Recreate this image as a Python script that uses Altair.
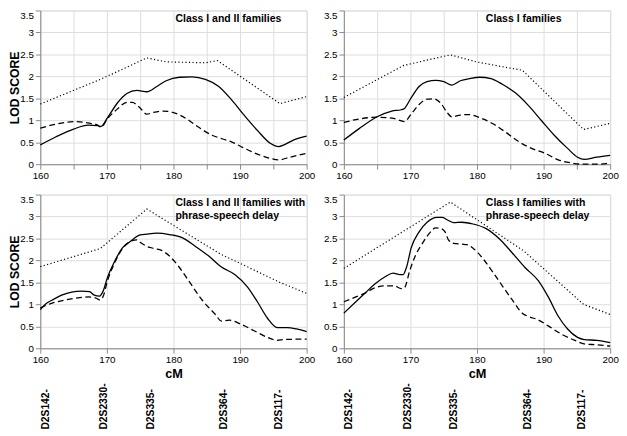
import altair as alt
import pandas as pd

FONT = "Liberation Sans"

# ---------------- data (cM positions, LOD scores) ----------------
# Panel 1: Class I and II families
tl_solid_x = [160, 162.3, 165, 167.2, 168.6, 169.1, 170.1, 171.6, 173, 174.5, 176, 177.5, 178.9, 180.9, 182.8,
              184.8, 186.8, 188.7, 190.7, 192.6, 194.6, 195.8, 196.6, 198, 200]
tl_solid_y = [0.44, 0.62, 0.8, 0.89, 0.88, 0.86, 1.06, 1.4, 1.61, 1.68, 1.65, 1.77, 1.9, 1.98, 1.99,
              1.93, 1.77, 1.47, 1.1, 0.77, 0.47, 0.4, 0.44, 0.55, 0.64]
tl_dash_x = [160, 162.3, 165, 167.2, 168.6, 169.1, 170.1, 171.6, 173, 173.8, 174.8, 176, 177, 178.4, 179.9,
             181.9, 183.8, 185.8, 187.3, 188.7, 190.7, 192.6, 194.6, 195.8, 197.5, 200]
tl_dash_y = [0.82, 0.91, 0.97, 0.94, 0.89, 0.84, 1.04, 1.26, 1.41, 1.41, 1.31, 1.14, 1.18, 1.21, 1.18,
             1.04, 0.84, 0.66, 0.58, 0.51, 0.36, 0.23, 0.13, 0.10, 0.16, 0.25]
tl_dot_x = [160, 169, 176, 178.9, 184.8, 186.6, 196, 200]
tl_dot_y = [1.37, 1.93, 2.42, 2.33, 2.31, 2.36, 1.38, 1.54]

# Panel 2: Class I families
tr_solid_x = [160, 162.3, 165, 167.2, 168.6, 169.1, 170.1, 171.3, 172.5, 173.8, 175, 176.2, 177.5, 178.9, 180.4,
              182.1, 183.8, 185.8, 187.7, 189.7, 191.6, 193.6, 195.1, 196.1, 198, 200]
tr_solid_y = [0.55, 0.81, 1.08, 1.21, 1.24, 1.27, 1.51, 1.77, 1.88, 1.91, 1.88, 1.8, 1.9, 1.95, 1.98,
              1.95, 1.82, 1.62, 1.34, 0.99, 0.66, 0.36, 0.16, 0.11, 0.16, 0.2]
tr_dash_x = [160, 162.3, 165, 167.2, 168.4, 169.1, 170.1, 171.3, 172.5, 173.5, 174.5, 175.5, 176.2, 177.5, 178.7,
             180.4, 182.4, 184.3, 186.3, 188.2, 190.2, 192.2, 194.1, 196.1, 198, 200]
tr_dash_y = [0.95, 1.03, 1.07, 1.05, 1.0, 0.97, 1.14, 1.36, 1.48, 1.49, 1.4, 1.18, 1.08, 1.12, 1.13,
             1.06, 0.92, 0.73, 0.51, 0.36, 0.25, 0.1, 0.03, 0.0, 0.0, 0.03]
tr_dot_x = [160, 169, 176, 179.9, 183.8, 186.8, 196, 200]
tr_dot_y = [1.52, 2.25, 2.49, 2.33, 2.22, 2.14, 0.79, 0.93]

# Panel 3: Class I and II families with phrase-speech delay
bl_solid_x = [160, 160.8, 161.8, 163.2, 164.7, 166.2, 167.4, 168.1, 168.9, 169.4, 170.1, 171.1, 172.3, 173.5, 175,
              176, 177.5, 179.4, 181.3, 183.3, 185.3, 187.2, 189.2, 191.1, 192.6, 194.1, 195.6, 197.1, 198.5, 200]
bl_solid_y = [0.88, 1.01, 1.1, 1.21, 1.28, 1.3, 1.29, 1.21, 1.19, 1.29, 1.62, 1.96, 2.28, 2.43, 2.58,
              2.6, 2.62, 2.59, 2.52, 2.32, 2.1, 1.85, 1.68, 1.4, 1.06, 0.69, 0.47, 0.47, 0.44, 0.38]
bl_dash_x = [160, 161.8, 163.7, 165.7, 167.2, 168.4, 168.9, 169.4, 170.1, 171.3, 172.5, 173.5, 174.5, 175.2, 176,
             177.2, 178.2, 179.4, 180.9, 182.4, 184.3, 186.3, 187.2, 188.4, 190.1, 192.1, 194.1, 195.6, 196.6, 200]
bl_dash_y = [0.92, 1.03, 1.1, 1.15, 1.17, 1.14, 1.1, 1.17, 1.54, 1.99, 2.3, 2.43, 2.47, 2.39, 2.32,
             2.27, 2.23, 2.1, 1.84, 1.51, 1.1, 0.77, 0.62, 0.64, 0.55, 0.4, 0.25, 0.18, 0.2, 0.21]
bl_dot_x = [160, 169, 176, 187, 196, 200]
bl_dot_y = [1.86, 2.27, 3.17, 2.15, 1.5, 1.25]

# Panel 4: Class I families with phrase-speech delay
br_solid_x = [160, 161.8, 163.2, 164.7, 166.2, 167.4, 168.4, 168.9, 169.4, 170.1, 171.3, 172.5, 174, 174.8, 175.7,
              176.5, 177.7, 179.4, 181.3, 183.3, 185.3, 187.2, 189.2, 190.7, 192.2, 193.6, 195.1, 196.1, 198, 200]
br_solid_y = [0.8, 1.06, 1.26, 1.47, 1.63, 1.71, 1.68, 1.68, 1.84, 2.28, 2.65, 2.87, 2.98, 2.98, 2.91,
              2.86, 2.87, 2.83, 2.73, 2.5, 2.17, 1.84, 1.54, 1.17, 0.73, 0.44, 0.25, 0.2, 0.18, 0.13]
br_dash_x = [160, 161.8, 163.2, 164.7, 166.2, 167.6, 168.6, 169.1, 169.9, 170.8, 171.8, 172.8, 173.8, 174.5, 175.2,
             175.7, 176.5, 177.7, 178.5, 179.4, 181, 182.4, 183.9, 185.3, 186.8, 187.8, 189, 190.7, 192.7, 194.7,
             196.1, 198, 200]
br_dash_y = [1.06, 1.17, 1.26, 1.38, 1.42, 1.42, 1.36, 1.38, 1.77, 2.13, 2.39, 2.61, 2.74, 2.73, 2.65,
             2.47, 2.39, 2.37, 2.36, 2.28, 2.02, 1.73, 1.4, 1.1, 0.8, 0.72, 0.66, 0.51, 0.32, 0.18,
             0.1, 0.08, 0.05]
br_dot_x = [160, 176, 187, 196, 200]
br_dot_y = [1.82, 3.33, 2.22, 1.0, 0.77]

panel_titles = [
    "Class I and II families",
    "Class I families",
    "Class I and II families with\nphrase-speech delay",
    "Class I families with\nphrase-speech delay",
]

marker_names = ["D2S142-", "D2S2330-", "D2S335-", "D2S364-", "D2S117-"]
marker_cm = [160.8, 169.6, 176.6, 187.6, 195.8]

x_ticks = [160, 165, 170, 175, 180, 185, 190, 195, 200]
y_ticks = [0, 0.5, 1, 1.5, 2, 2.5, 3, 3.5]

# ---------------- layout ----------------
W, H = 272, 157


def panel(sx, sy, dx, dy, ox, oy, title, title_x, y_title, x_title, markers):
    x_enc = alt.X(
        "cM:Q",
        scale=alt.Scale(domain=[160, 200], nice=False, zero=False),
        axis=alt.Axis(
            values=x_ticks,
            labelExpr="datum.value % 10 == 0 ? datum.label : ''",
            labelFlush=False,
            title="cM" if x_title else None,
            titleFontSize=13,
            titlePadding=3,
        ),
    )
    y_enc = alt.Y(
        "lod:Q",
        scale=alt.Scale(domain=[0, 3.5], nice=False),
        axis=alt.Axis(
            values=y_ticks,
            format="~g",
            title="LOD SCORE" if y_title else None,
            titleFontSize=12.5,
            titlePadding=-2,
            minExtent=0,
            labelBaseline={"condition": {"test": "datum.value == 3.5", "value": "top"}, "value": "middle"},
        ),
    )
    solid = alt.Chart(pd.DataFrame({"cM": sx, "lod": sy})).mark_line(
        color="black", strokeWidth=1.3, interpolate="monotone"
    ).encode(x=x_enc, y=y_enc)
    dashed = alt.Chart(pd.DataFrame({"cM": dx, "lod": dy})).mark_line(
        color="black", strokeWidth=1.3, strokeDash=[6, 3.5], interpolate="monotone"
    ).encode(x=x_enc, y=y_enc)
    dotted = alt.Chart(pd.DataFrame({"cM": ox, "lod": oy})).mark_line(
        color="black", strokeWidth=1.2, strokeDash=[1.2, 2.4], interpolate="linear"
    ).encode(x=x_enc, y=y_enc)
    label = alt.Chart(pd.DataFrame({"t": [title]})).mark_text(
        font=FONT, fontSize=10.7, fontWeight="bold", align="left", baseline="top",
        lineBreak="\n", lineHeight=12.5, color="black"
    ).encode(text="t:N", x=alt.value(title_x), y=alt.value(4))
    layers = [dotted, dashed, solid, label]
    if markers:
        mk = alt.Chart(pd.DataFrame({"cM": marker_cm, "name": marker_names})).mark_text(
            font=FONT, fontSize=10.5, fontWeight="bold", angle=270, align="left",
            baseline="middle", color="black"
        ).encode(x=alt.X("cM:Q"), y=alt.value(H + 83), text="name:N")
        layers.append(mk)
    return alt.layer(*layers).properties(width=W, height=H)


tl = panel(tl_solid_x, tl_solid_y, tl_dash_x, tl_dash_y, tl_dot_x, tl_dot_y, panel_titles[0], 138, True, False, False)
tr = panel(tr_solid_x, tr_solid_y, tr_dash_x, tr_dash_y, tr_dot_x, tr_dot_y, panel_titles[1], 145, False, False, False)
bl = panel(bl_solid_x, bl_solid_y, bl_dash_x, bl_dash_y, bl_dot_x, bl_dot_y, panel_titles[2], 138, True, True, True)
br = panel(br_solid_x, br_solid_y, br_dash_x, br_dash_y, br_dot_x, br_dot_y, panel_titles[3], 145, False, True, True)

chart = alt.concat(tl, tr, bl, br, columns=2, spacing={"row": 31, "column": 38}, bounds="flush").properties(
    padding={"left": 0, "top": -3, "right": 0, "bottom": 0}
).configure_view(
    stroke="black", strokeWidth=1
).configure_axis(
    grid=False,
    domainColor="#8a8a8a",
    tickColor="#8a8a8a",
    tickSize=3,
    labelFont=FONT,
    labelFontSize=6.5,
    labelColor="#222222",
    labelPadding=1,
    titleFont=FONT,
    titleFontWeight="bold",
    titleColor="black",
).configure(background="white")

chart.save("out.html", embed_options={"renderer": "svg", "actions": False})
